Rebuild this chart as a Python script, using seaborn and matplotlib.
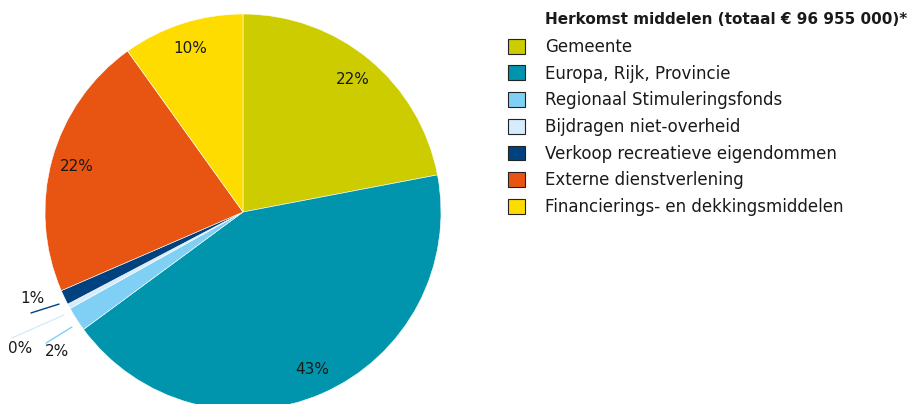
import matplotlib
matplotlib.use('Agg')
import matplotlib.pyplot as plt
from matplotlib.patches import Patch
import seaborn as sns

# herkomst middelen, aandeel in %
categories = [
    "Gemeente",
    "Europa, Rijk, Provincie",
    "Regionaal Stimuleringsfonds",
    "Bijdragen niet-overheid",
    "Verkoop recreatieve eigendommen",
    "Externe dienstverlening",
    "Financierings- en dekkingsmiddelen",
]
shares = [22.0, 42.9, 2.0, 0.4, 1.2, 21.6, 9.9]
colors = ["#cccc00", "#0095ad", "#80cff4", "#d6ecfa", "#00427f", "#e85412", "#ffdc00"]
title = "Herkomst middelen (totaal € 96 955 000)*"

sns.set_theme(style="white")
plt.rcParams['font.family'] = ['DejaVu Sans']

fig = plt.figure(figsize=(9.16, 4.04), dpi=100)
ax = fig.add_axes([45 / 916, -6 / 404, 396 / 916, 396 / 404])

wedges, texts, autotexts = ax.pie(
    shares, colors=colors, startangle=90, counterclock=False,
    autopct="%.0f%%", pctdistance=0.87, radius=1.0,
    wedgeprops=dict(edgecolor="white", linewidth=0.4),
    textprops=dict(fontsize=11, color="#1a1a1a"),
)
ax.set_xlim(-1, 1)
ax.set_ylim(-1, 1)
ax.set_aspect("equal")
ax.axis("off")

# kleine segmenten: label buiten de taart met lijntje
small = {
    2: dict(text=(-0.939, -0.707), line=((-0.995, -0.662), (-0.864, -0.581))),
    3: dict(text=(-1.126, -0.687), line=((-1.167, -0.636), (-0.904, -0.520))),
    4: dict(text=(-1.061, -0.439), line=((-1.071, -0.510), (-0.929, -0.465))),
}
for i, s in small.items():
    autotexts[i].set_position(s["text"])
    (x0, y0), (x1, y1) = s["line"]
    ax.plot([x0, x1], [y0, y1], color=colors[i], lw=1.0, clip_on=False)

handles = [Patch(facecolor=c, edgecolor="#222222", linewidth=0.8) for c in colors]
fig.legend(
    handles, categories, loc="upper left", bbox_to_anchor=(508 / 916, 1 - 38 / 404),
    frameon=False, fontsize=12, handlelength=1.0, handleheight=1.0,
    handletextpad=1.22, labelspacing=0.52, borderpad=0, borderaxespad=0,
    labelcolor="#1a1a1a",
)
fig.text(545 / 916, 1 - 20 / 404, title, fontsize=11, fontweight="bold",
         va="center", ha="left", color="#1a1a1a")

fig.savefig("out.png", dpi=100)
